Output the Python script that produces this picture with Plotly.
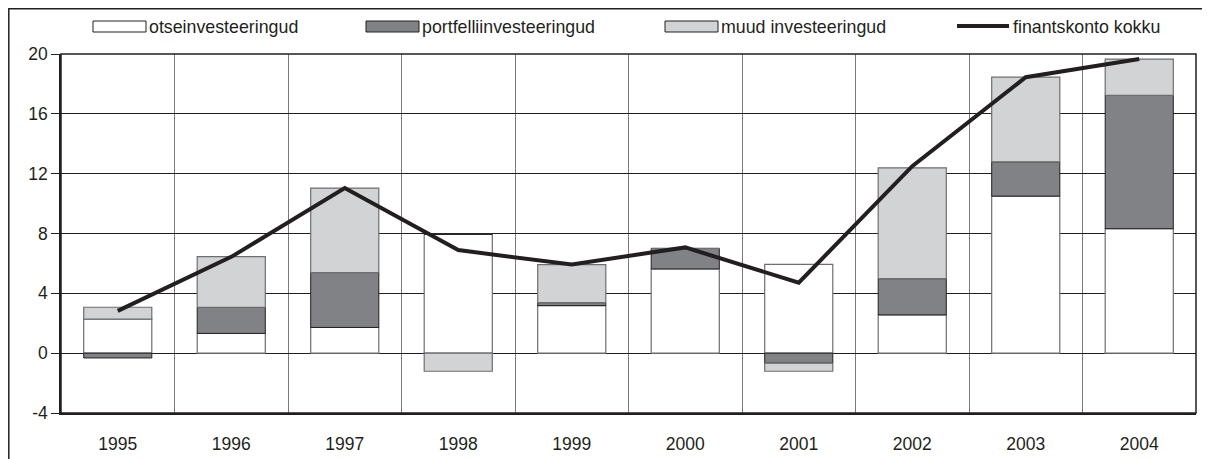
import plotly.graph_objects as go

# values
years = ["1995", "1996", "1997", "1998", "1999", "2000", "2001", "2002", "2003", "2004"]
otse = [2.27, 1.32, 1.72, 7.95, 3.18, 5.63, 5.93, 2.56, 10.5, 8.32]
portfell = [-0.32, 1.75, 3.67, 0.0, 0.2, 1.37, -0.67, 2.42, 2.29, 8.92]
muud = [0.8, 3.39, 5.65, -1.21, 2.54, 0.0, -0.54, 7.41, 5.66, 2.42]
kokku = [2.83, 6.44, 11.04, 6.89, 5.93, 7.07, 4.71, 12.5, 18.45, 19.66]

y_ticks = [-4, 0, 4, 8, 12, 16, 20]

# page has an 8px body margin, so the figure is drawn 8px in from the top-left
OFF = 8
W, H = 1210 - OFF, 459 - OFF
L, R, T, B = 53, 14, 46, 46
FONT = "Liberation Sans, Arial, sans-serif"
OUTLINE = "#6d6e71"
DARK = "#808285"
LIGHT = "#d1d3d4"
INK = "#231f20"


def px(x):
    # page pixel -> paper x
    return (x - OFF - L) / (W - L - R)


def py(y):
    # page pixel -> paper y
    return (H - B - (y - OFF)) / (H - T - B)


fig = go.Figure()
fig.add_trace(go.Bar(x=years, y=otse, name="otseinvesteeringud",
                     marker=dict(color="white", line=dict(color=OUTLINE, width=1.2))))
fig.add_trace(go.Bar(x=years, y=portfell, name="portfelliinvesteeringud",
                     marker=dict(color=DARK, line=dict(color=INK, width=1))))
fig.add_trace(go.Bar(x=years, y=muud, name="muud investeeringud",
                     marker=dict(color=LIGHT, line=dict(color=OUTLINE, width=1.2))))
fig.add_trace(go.Scatter(x=years, y=kokku, name="finantskonto kokku", mode="lines",
                         line=dict(color=INK, width=4)))

shapes = []
annotations = []

# outer frame
shapes.append(dict(type="rect", xref="paper", yref="paper",
                   x0=px(OFF + 0.8), x1=px(1230), y0=py(480), y1=py(OFF + 0.8),
                   line=dict(color=INK, width=1.5), fillcolor="rgba(0,0,0,0)", layer="below"))
# plot frame (top/right)
shapes.append(dict(type="rect", xref="paper", yref="paper", x0=0, x1=1, y0=0, y1=1,
                   line=dict(color=INK, width=1.5), layer="above"))

# hand-drawn legend so the swatches are wide like the original
legend_items = [
    ("otseinvesteeringud", 93, "white"),
    ("portfelliinvesteeringud", 366, DARK),
    ("muud investeeringud", 665, LIGHT),
]
for label, x0, col in legend_items:
    shapes.append(dict(type="rect", xref="paper", yref="paper",
                       x0=px(x0), x1=px(x0 + 53), y0=py(32), y1=py(21),
                       fillcolor=col, line=dict(color=INK, width=1)))
    annotations.append(dict(text=label, xref="paper", yref="paper", x=px(x0 + 54), y=py(27),
                            xanchor="left", yanchor="middle", showarrow=False,
                            font=dict(family=FONT, size=17.8, color=INK)))
shapes.append(dict(type="line", xref="paper", yref="paper",
                   x0=px(957), x1=px(1009), y0=py(26), y1=py(26),
                   line=dict(color=INK, width=4)))
annotations.append(dict(text="finantskonto kokku", xref="paper", yref="paper", x=px(1011), y=py(27),
                        xanchor="left", yanchor="middle", showarrow=False,
                        font=dict(family=FONT, size=17.8, color=INK)))

fig.update_layout(
    width=W, height=H,
    margin=dict(l=L, r=R, t=T, b=B, autoexpand=False),
    barmode="relative", bargap=0.4,
    plot_bgcolor="white", paper_bgcolor="white",
    showlegend=False,
    font=dict(family=FONT, size=17.5, color=INK),
    shapes=shapes, annotations=annotations,
)
fig.update_xaxes(type="category", tickson="boundaries", showgrid=True, gridcolor="#7a7a7a",
                 gridwidth=1, ticks="", showline=True, linecolor=INK, linewidth=1.5,
                 ticklabelstandoff=14, tickfont=dict(size=17.5), automargin=False)
fig.update_yaxes(range=[-4, 20], tickvals=y_ticks, ticktext=[str(v) for v in y_ticks],
                 showgrid=True, gridcolor=INK, gridwidth=1,
                 zeroline=True, zerolinecolor=INK, zerolinewidth=1,
                 ticks="outside", ticklen=8, tickcolor=INK, showline=True, linecolor=INK, linewidth=1.5,
                 tickfont=dict(size=17.5), automargin=False)

fig.write_html("out.html")
